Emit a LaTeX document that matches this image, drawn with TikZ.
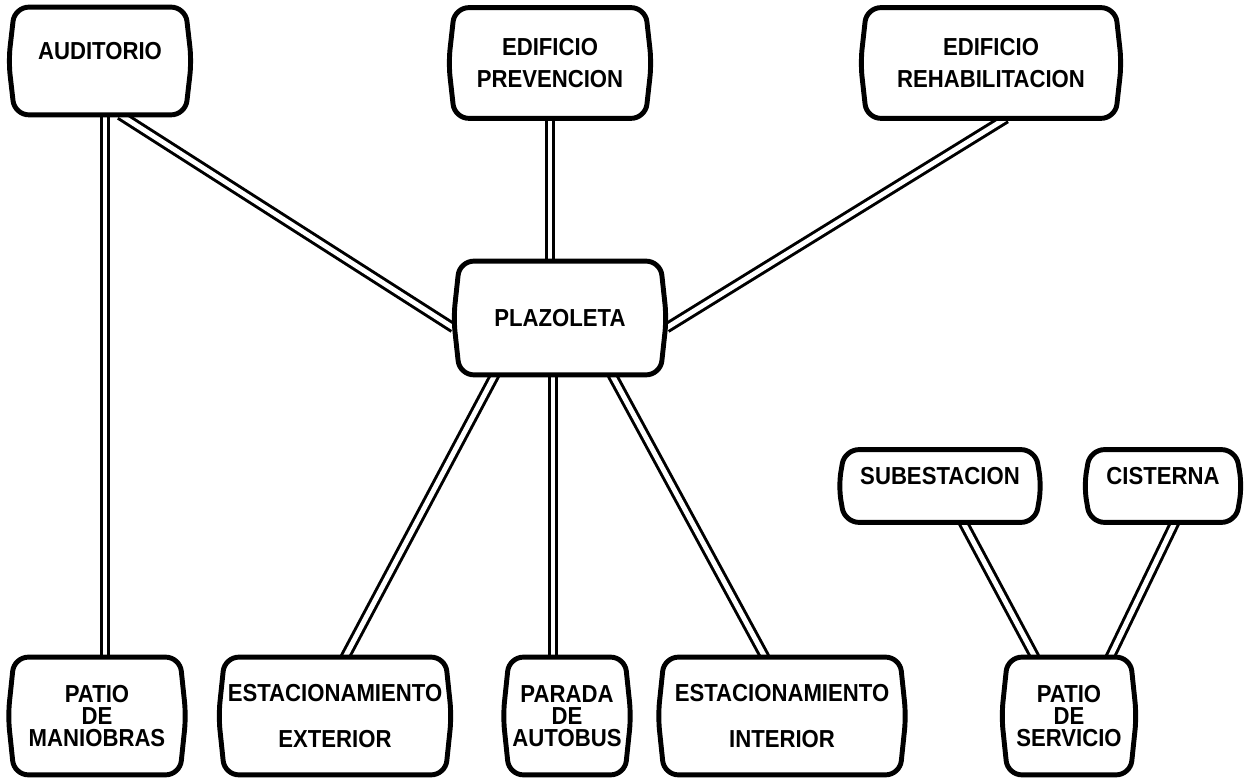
\documentclass[tikz,border=0pt]{standalone}
\usepackage{fontspec}
\setmainfont{Liberation Sans}[FakeStretch=0.9]
\usepackage{tikz}
\usetikzlibrary{backgrounds}

\begin{document}
\begin{tikzpicture}[
  area/.style={
    fill=white,
    align=center,
    inner sep=1pt,
    font=\bfseries\fontsize{14}{12.5}\selectfont
  },
  rim/.style={
    line width=2.8pt,
    rounded corners=8pt
  },
  link/.style={
    line width=1.7pt,
    double=white,
    double distance=2.8pt
  }
]
  \useasboundingbox (0,0) rectangle (24.9,15.58);

  \node[area,minimum width=3.4cm,minimum height=2.14cm] (aud) at (2.0,14.36) {AUDITORIO\\[-0.5pt]\mbox{}};
  \node[area,minimum width=3.8cm,minimum height=2.2cm] (prev) at (11.0,14.32) {EDIFICIO\\[6pt]PREVENCION};
  \node[area,minimum width=4.96cm,minimum height=2.2cm] (rehab) at (19.82,14.32) {EDIFICIO\\[6pt]REHABILITACION};
  \node[area,minimum width=4.0cm,minimum height=2.26cm] (plaz) at (11.2,9.22) {PLAZOLETA};
  \node[area,minimum width=3.8cm,minimum height=1.44cm] (sub) at (18.8,5.86) {SUBESTACION\\[-1pt]\mbox{}};
  \node[area,minimum width=2.9cm,minimum height=1.44cm] (cist) at (23.26,5.86) {CISTERNA\\[-1pt]\mbox{}};

  \node[area,minimum width=3.3cm,minimum height=2.34cm] (maniob) at (1.94,1.26) {PATIO\\DE\\MANIOBRAS};
  \node[area,minimum width=4.4cm,minimum height=2.34cm] (estext) at (6.7,1.26) {ESTACIONAMIENTO\\[13.5pt]EXTERIOR};
  \node[area,minimum width=2.3cm,minimum height=2.34cm] (parada) at (11.34,1.26) {PARADA\\DE\\AUTOBUS};
  \node[area,minimum width=4.7cm,minimum height=2.34cm] (estint) at (15.64,1.26) {ESTACIONAMIENTO\\[13.5pt]INTERIOR};
  \node[area,minimum width=2.44cm,minimum height=2.34cm] (serv) at (21.38,1.26) {PATIO\\DE\\SERVICIO};

  % barrel outlines
  \foreach \n in {aud,prev,rehab,plaz,sub,cist,maniob,estext,parada,estint,serv}
    \draw[rim] (\n.north west) -- (\n.north east) -- ([xshift=3.5pt]\n.east)
      -- (\n.south east) -- (\n.south west) -- ([xshift=-3.5pt]\n.west) -- cycle;

  \begin{scope}[on background layer]
    \draw[link] ([xshift=1mm]aud.south) -- ([xshift=1mm]aud.south |- maniob.north);
    \draw[link] ([xshift=4mm]aud.south) -- ([xshift=-3.5pt,yshift=-2mm]plaz.west);
    \draw[link] (prev.south) -- (prev.south |- plaz.north);
    \draw[link] ([xshift=3mm]rehab.south) -- ([xshift=3.5pt,yshift=-2mm]plaz.east);
    \draw[link] ([xshift=-13mm]plaz.south) -- ([xshift=2mm]estext.north);
    \draw[link] ([xshift=-1.4mm]plaz.south) -- ([xshift=-1.4mm]plaz.south |- parada.north);
    \draw[link] ([xshift=10.4mm]plaz.south) -- ([xshift=-3.4mm]estint.north);
    \draw[link] ([xshift=4.6mm]sub.south) -- ([xshift=-6.8mm]serv.north);
    \draw[link] ([xshift=2.4mm]cist.south) -- ([xshift=8.2mm]serv.north);
  \end{scope}
\end{tikzpicture}
\end{document}
